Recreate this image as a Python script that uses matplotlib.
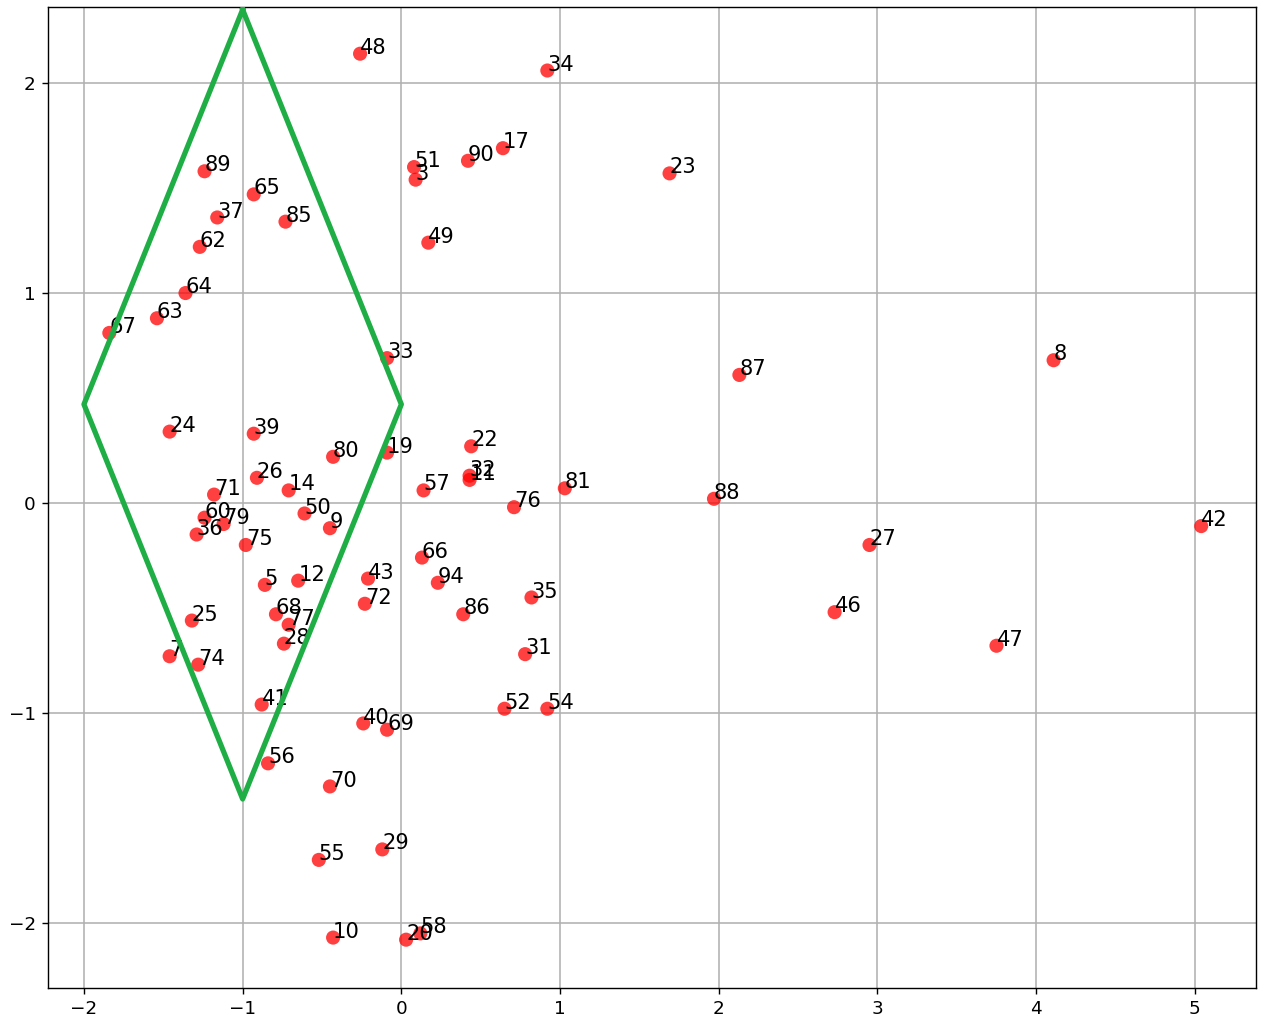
import matplotlib

matplotlib.use("Agg")
import matplotlib.pyplot as plt

# 2-D projection of the samples, labelled by sample id
ids = [48, 34, 89, 65, 37, 85, 62, 64, 63, 67,
       51, 3, 90, 17, 23, 49, 33, 87, 8,
       24, 39, 80, 19, 22, 32, 11, 57, 81, 76, 88, 42, 27,
       71, 60, 79, 36, 75, 26, 14, 50, 9,
       5, 12, 43, 72, 25, 68, 77, 28, 7, 74, 41,
       66, 94, 86, 35, 31, 52, 54, 46, 47,
       40, 69, 70, 55, 29, 10, 20, 58, 56]
xs = [-0.26, 0.92, -1.24, -0.93, -1.16, -0.73, -1.27, -1.36, -1.54, -1.84,
      0.08, 0.09, 0.42, 0.64, 1.69, 0.17, -0.09, 2.13, 4.11,
      -1.46, -0.93, -0.43, -0.09, 0.44, 0.43, 0.43, 0.14, 1.03, 0.71, 1.97, 5.04, 2.95,
      -1.18, -1.24, -1.12, -1.29, -0.98, -0.91, -0.71, -0.61, -0.45,
      -0.86, -0.65, -0.21, -0.23, -1.32, -0.79, -0.71, -0.74, -1.46, -1.28, -0.88,
      0.13, 0.23, 0.39, 0.82, 0.78, 0.65, 0.92, 2.73, 3.75,
      -0.24, -0.09, -0.45, -0.52, -0.12, -0.43, 0.03, 0.12, -0.84]
ys = [2.14, 2.06, 1.58, 1.47, 1.36, 1.34, 1.22, 1.00, 0.88, 0.81,
      1.60, 1.54, 1.63, 1.69, 1.57, 1.24, 0.69, 0.61, 0.68,
      0.34, 0.33, 0.22, 0.24, 0.27, 0.13, 0.11, 0.06, 0.07, -0.02, 0.02, -0.11, -0.20,
      0.04, -0.07, -0.10, -0.15, -0.20, 0.12, 0.06, -0.05, -0.12,
      -0.39, -0.37, -0.36, -0.48, -0.56, -0.53, -0.58, -0.67, -0.73, -0.77, -0.96,
      -0.26, -0.38, -0.53, -0.45, -0.72, -0.98, -0.98, -0.52, -0.68,
      -1.05, -1.08, -1.35, -1.70, -1.65, -2.07, -2.08, -2.05, -1.24]

# decision region (diamond) vertices
region_x = [-1, 0, -1, -2, -1]
region_y = [2.35, 0.47, -1.41, 0.47, 2.35]

fig = plt.figure(figsize=(10.0, 8.145), dpi=126.1)
ax = fig.add_axes([0.038, 0.038, 0.958, 0.955])

ax.scatter(xs, ys, s=65, color="red", alpha=0.75, edgecolors="none", zorder=2)
for i, x, y in zip(ids, xs, ys):
    ax.text(x, y, str(i), fontsize=12, zorder=3)
ax.plot(region_x, region_y, color="#1fae45", linewidth=3.0, zorder=4)

ax.set_xlim(-2.227, 5.385)
ax.set_ylim(-2.31, 2.362)
ax.set_xticks(range(-2, 6))
ax.set_yticks(range(-2, 3))
ax.tick_params(labelsize=10.5)
ax.grid(True, color="#b0b0b0", linewidth=0.9)
ax.set_axisbelow(True)

fig.savefig("out.png", dpi=126.1)
